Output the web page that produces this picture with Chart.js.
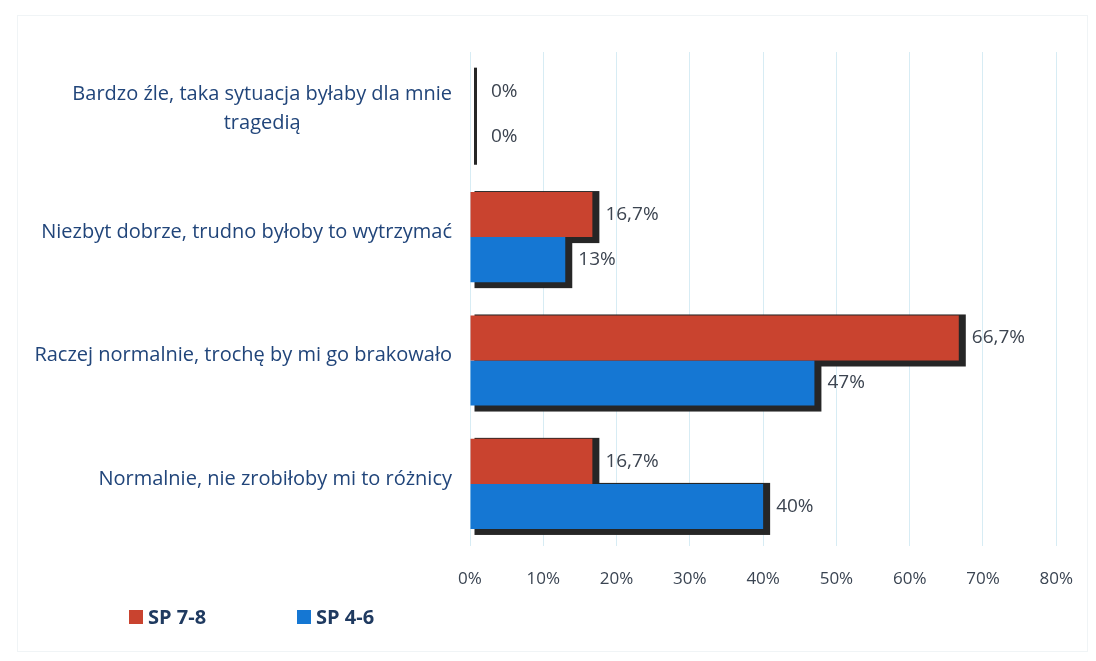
<!DOCTYPE html>
<html lang="pl">
<head>
<meta charset="utf-8">
<title>SP 7-8 / SP 4-6</title>
<script src="https://cdn.jsdelivr.net/npm/chart.js@4.4.1/dist/chart.umd.min.js"></script>
<style>
  html, body { margin: 0; padding: 0; background: #ffffff; }
  #chart { display: block; }
</style>
</head>
<body>
<canvas id="chart" width="1096" height="661"></canvas>
<script>
// Answer categories (top to bottom); arrays are wrapped lines
const categories = [
  ['Bardzo źle, taka sytuacja byłaby dla mnie', 'tragedią'],
  'Niezbyt dobrze, trudno byłoby to wytrzymać',
  'Raczej normalnie, trochę by mi go brakowało',
  'Normalnie, nie zrobiłoby mi to różnicy'
];

// Percent of answers per school group
const seriesNames = ['SP 7-8', 'SP 4-6'];
const sp78 = [0, 16.7, 66.7, 16.7];
const sp46 = [0, 13, 47, 40];

// Horizontal axis range and step (percent)
const xMin = 0;
const xMax = 80;
const xStep = 10;

const COLORS = { red: '#c9432f', blue: '#1577d3', shadow: '#262626' };
const FONT = '"Open Sans", "DejaVu Sans", sans-serif';
const LABEL_RIGHT = 452;

const fmtPct = v => String(v).replace('.', ',') + '%';

// Dark drop shadow behind every bar, drawn before the bars themselves
const barShadow = {
  id: 'barShadow',
  beforeDatasetsDraw(chart) {
    const ctx = chart.ctx;
    ctx.save();
    ctx.fillStyle = COLORS.shadow;
    chart.data.datasets.forEach((ds, di) => {
      chart.getDatasetMeta(di).data.forEach(el => {
        const h = el.height;
        const left = el.base + 4;
        const right = el.x + 7;
        const top = el.y - h / 2 - 1;
        const bottom = el.y + h / 2 + 6;
        ctx.fillRect(left, top, right - left, bottom - top);
      });
    });
    ctx.restore();
  }
};

// Value labels to the right of each bar
const valueLabels = {
  id: 'valueLabels',
  afterDatasetsDraw(chart) {
    const ctx = chart.ctx;
    ctx.save();
    ctx.font = '19px ' + FONT;
    ctx.fillStyle = '#3c4450';
    ctx.textAlign = 'left';
    ctx.textBaseline = 'middle';
    chart.data.datasets.forEach((ds, di) => {
      chart.getDatasetMeta(di).data.forEach((el, i) => {
        const x = Math.max(el.x + 13, el.base + 21);
        ctx.fillText(fmtPct(ds.data[i]), x, el.y);
      });
    });
    ctx.restore();
  }
};

// Category names on the left, right-aligned; wrapped lines centred under the first
const categoryLabels = {
  id: 'categoryLabels',
  afterDraw(chart) {
    const ctx = chart.ctx;
    const yScale = chart.scales.y;
    const lineH = 29;
    ctx.save();
    ctx.font = '20px ' + FONT;
    ctx.fillStyle = '#21457a';
    ctx.textBaseline = 'middle';
    chart.data.labels.forEach((lab, i) => {
      const lines = Array.isArray(lab) ? lab : [lab];
      const cy = yScale.getPixelForValue(i) - 5;
      const top = cy - (lines.length - 1) * lineH / 2;
      if (lines.length === 1) {
        ctx.textAlign = 'right';
        ctx.fillText(lines[0], LABEL_RIGHT, cy);
      } else {
        const w0 = ctx.measureText(lines[0]).width;
        const cx = LABEL_RIGHT - w0 / 2;
        ctx.textAlign = 'center';
        lines.forEach((ln, k) => ctx.fillText(ln, cx, top + k * lineH));
      }
    });
    ctx.restore();
  }
};

// Legend row at the bottom left
const bottomLegend = {
  id: 'bottomLegend',
  afterDraw(chart) {
    const ctx = chart.ctx;
    const positions = [129, 297];
    const y = 617;
    ctx.save();
    ctx.font = 'bold 20px ' + FONT;
    ctx.textBaseline = 'middle';
    ctx.textAlign = 'left';
    chart.data.datasets.forEach((ds, di) => {
      const x = positions[di];
      ctx.fillStyle = ds.backgroundColor;
      ctx.fillRect(x, y - 7, 14, 14);
      ctx.fillStyle = '#1f3a60';
      ctx.fillText(ds.label, x + 19, y + 1);
    });
    ctx.restore();
  }
};

// White page with a faint frame
const pageBackground = {
  id: 'pageBackground',
  beforeDraw(chart) {
    const ctx = chart.ctx;
    ctx.save();
    ctx.fillStyle = '#ffffff';
    ctx.fillRect(0, 0, chart.width, chart.height);
    ctx.strokeStyle = '#f0f4f6';
    ctx.lineWidth = 1;
    ctx.strokeRect(17.5, 15.5, 1070, 636);
    ctx.restore();
  }
};

new Chart(document.getElementById('chart'), {
  type: 'bar',
  data: {
    labels: categories,
    datasets: [
      { label: seriesNames[0], data: sp78, backgroundColor: COLORS.red,
        barPercentage: 1.0, categoryPercentage: 0.73 },
      { label: seriesNames[1], data: sp46, backgroundColor: COLORS.blue,
        barPercentage: 1.0, categoryPercentage: 0.73 }
    ]
  },
  options: {
    indexAxis: 'y',
    responsive: false,
    animation: false,
    devicePixelRatio: 1,
    layout: { padding: { left: 470, right: 30, top: 52, bottom: 49 } },
    plugins: {
      legend: { display: false },
      tooltip: { enabled: false }
    },
    scales: {
      x: {
        min: xMin,
        max: xMax,
        ticks: {
          stepSize: xStep,
          callback: v => v + '%',
          color: '#3a4452',
          font: { family: FONT, size: 17 },
          padding: 23
        },
        grid: { color: '#d7ecf4', drawTicks: false },
        border: { display: false }
      },
      y: { display: false }
    }
  },
  plugins: [pageBackground, barShadow, valueLabels, categoryLabels, bottomLegend]
});
</script>
</body>
</html>
